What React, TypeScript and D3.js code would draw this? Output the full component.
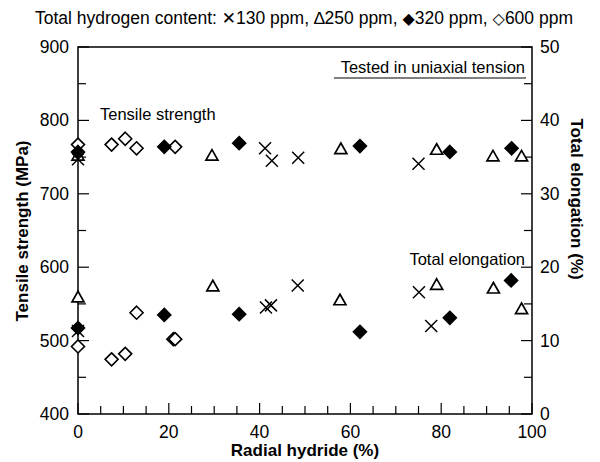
import React from "react";
import * as d3 from "d3";

// ---- data ----
const tensile130: [number, number][] = [[0, 747], [41.2, 762], [42.7, 745], [48.5, 749], [75, 741]];
const tensile250: [number, number][] = [[0, 752], [29.5, 752], [57.9, 761], [79, 760], [91.4, 751], [97.7, 751]];
const tensile320: [number, number][] = [[0, 757], [19, 764], [35.5, 769], [62.1, 765], [81.9, 757], [95.5, 762]];
const tensile600: [number, number][] = [[0, 767], [7.4, 767], [10.4, 775], [12.9, 762], [21.4, 764]];

const elong130: [number, number][] = [[0, 11.3], [41.4, 14.5], [42.5, 14.8], [48.4, 17.5], [75.1, 16.6], [77.8, 12.0]];
const elong250: [number, number][] = [[0, 15.9], [29.7, 17.4], [57.7, 15.5], [79, 17.6], [91.5, 17.1], [97.7, 14.3]];
const elong320: [number, number][] = [[0, 11.7], [19, 13.5], [35.5, 13.6], [62.1, 11.2], [81.9, 13.1], [95.4, 18.2]];
const elong600: [number, number][] = [[0, 9.2], [7.4, 7.45], [10.4, 8.2], [12.9, 13.8], [21, 10.2], [21.4, 10.2]];

const xTicks = [0, 20, 40, 60, 80, 100];
const leftTicks = [400, 500, 600, 700, 800, 900];
const rightTicks = [0, 10, 20, 30, 40, 50];

const FONT = "'Liberation Sans', Arial, Helvetica, sans-serif";

const W = 600, H = 462;
const L = 78, R = 532, T = 47, B = 414;

type Shape = "x" | "tri" | "dfill" | "dopen";

function Marker({ cx, cy, shape }: { cx: number; cy: number; shape: Shape }) {
  if (shape === "x") {
    const s = 6;
    return (
      <path d={`M${cx - s},${cy - s}L${cx + s},${cy + s}M${cx - s},${cy + s}L${cx + s},${cy - s}`} stroke="#000" strokeWidth={1.5} fill="none" />
    );
  }
  if (shape === "tri") {
    const s = 6;
    return (
      <path d={`M${cx},${cy - s}L${cx + s},${cy + s * 0.75}L${cx - s},${cy + s * 0.75}Z`} stroke="#000" strokeWidth={1.7} fill="#fff" strokeLinejoin="miter" />
    );
  }
  const s = 6.5;
  return (
    <path d={`M${cx},${cy - s}L${cx + s},${cy}L${cx},${cy + s}L${cx - s},${cy}Z`} stroke="#000" strokeWidth={1.6} fill={shape === "dfill" ? "#000" : "#fff"} />
  );
}

export default function App() {
  const x = d3.scaleLinear().domain([0, 100]).range([L, R]);
  const yL = d3.scaleLinear().domain([400, 900]).range([B, T]);
  const yR = d3.scaleLinear().domain([0, 50]).range([B, T]);

  const xMinor = d3.range(0, 101, 5);
  const yMinor = d3.range(400, 901, 50);

  const series: { pts: [number, number][]; shape: Shape; axis: "L" | "R" }[] = [
    { pts: tensile600, shape: "dopen", axis: "L" },
    { pts: elong600, shape: "dopen", axis: "R" },
    { pts: tensile250, shape: "tri", axis: "L" },
    { pts: elong250, shape: "tri", axis: "R" },
    { pts: tensile320, shape: "dfill", axis: "L" },
    { pts: elong320, shape: "dfill", axis: "R" },
    { pts: tensile130, shape: "x", axis: "L" },
    { pts: elong130, shape: "x", axis: "R" },
  ];

  return (
    <svg width={W} height={H} style={{ position: "absolute", left: 0, top: 0, background: "#fff" }} fontFamily={FONT}>
      <rect x={0} y={0} width={W} height={H} fill="#fff" />
      {/* legend line */}
      <text x={304} y={24} textAnchor="middle" fontSize={17.5} fill="#000">
        Total hydrogen content: <tspan fontFamily="'DejaVu Sans'" fontSize={17}>✕</tspan>130 ppm, <tspan>∆</tspan>250 ppm, <tspan fontFamily="'DejaVu Sans'" fontSize={16}>◆</tspan>320 ppm, <tspan fontFamily="'DejaVu Sans'" fontSize={16}>◇</tspan>600 ppm
      </text>

      {/* frame */}
      <rect x={L} y={T} width={R - L} height={B - T} fill="none" stroke="#000" strokeWidth={1.5} />

      {/* x ticks */}
      {xMinor.map((v) => (
        <line key={"xt" + v} x1={x(v)} x2={x(v)} y1={B} y2={B - (v % 20 === 0 ? 11 : 8)} stroke="#000" strokeWidth={1.2} />
      ))}
      {xTicks.map((v) => (
        <text key={"xl" + v} x={x(v)} y={438} textAnchor="middle" fontSize={17.5}>{v}</text>
      ))}

      {/* left ticks */}
      {yMinor.map((v) => (
        <line key={"yl" + v} x1={L} x2={L + (v % 100 === 0 ? 11 : 8)} y1={yL(v)} y2={yL(v)} stroke="#000" strokeWidth={1.2} />
      ))}
      {leftTicks.map((v) => (
        <text key={"ll" + v} x={69} y={yL(v) + 6} textAnchor="end" fontSize={17.5}>{v}</text>
      ))}

      {/* right ticks */}
      {d3.range(0, 51, 5).map((v) => (
        <line key={"yr" + v} x1={R} x2={R - (v % 10 === 0 ? 11 : 8)} y1={yR(v)} y2={yR(v)} stroke="#000" strokeWidth={1.2} />
      ))}
      {rightTicks.map((v) => (
        <text key={"rl" + v} x={540} y={yR(v) + 6} textAnchor="start" fontSize={17.5}>{v}</text>
      ))}

      {/* axis titles */}
      <text x={305} y={456} textAnchor="middle" fontSize={17} fontWeight="bold">Radial hydride (%)</text>
      <text transform={`translate(28,231) rotate(-90)`} textAnchor="middle" fontSize={17} fontWeight="bold">Tensile strength (MPa)</text>
      <text transform={`translate(571,199) rotate(90)`} textAnchor="middle" fontSize={17} fontWeight="bold">Total elongation (%)</text>

      {/* annotations */}
      <text x={100} y={120} fontSize={16.5}>Tensile strength</text>
      <text x={525} y={265} textAnchor="end" fontSize={16.5}>Total elongation</text>
      <text x={525} y={73} textAnchor="end" fontSize={16.5}>Tested in uniaxial tension</text>
      <line x1={334} x2={526} y1={78} y2={78} stroke="#000" strokeWidth={1.2} />

      {/* markers */}
      {series.map((s, i) =>
        s.pts.map(([a, b], j) => (
          <Marker key={i + "-" + j} cx={x(a)} cy={s.axis === "L" ? yL(b) : yR(b)} shape={s.shape} />
        ))
      )}
    </svg>
  );
}
